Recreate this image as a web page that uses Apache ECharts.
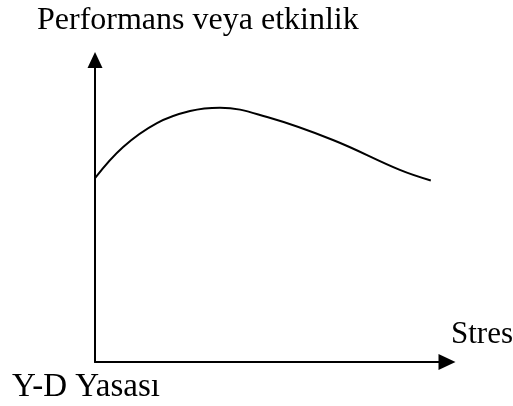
<!DOCTYPE html>
<html>
<head>
<meta charset="utf-8">
<script src="https://cdn.jsdelivr.net/npm/echarts@6/dist/echarts.min.js"></script>
<style>
html,body{margin:0;padding:0;background:#fff;}
#c{width:513px;height:406px;}
</style>
</head>
<body>
<div id="c"></div>
<script>
var stressX = [0, 8.0, 17.6, 27.0, 35.5, 48.9, 67.6, 86.6, 95.4];
var performanceY = [60.9, 71.2, 79.1, 83.1, 84.2, 81.1, 73.5, 63.6, 60.1];
var yTitle = 'Performans veya etkinlik';
var xTitle = 'Stres';
var caption = 'Y-D Yasası';

var data = stressX.map(function (x, i) { return [x, performanceY[i]]; });
var serif = '"Liberation Serif", "Times New Roman", serif';

var chart = echarts.init(document.getElementById('c'));
chart.setOption({
  animation: false,
  backgroundColor: '#fff',
  grid: { left: 95, right: 66, top: 60, bottom: 44 },
  xAxis: {
    type: 'value', min: 0, max: 100,
    axisLine: { show: true, lineStyle: { color: '#000', width: 2 }, symbol: ['none', 'triangle'], symbolSize: [16, 17], symbolOffset: [0, 0] },
    axisTick: { show: false }, axisLabel: { show: false }, splitLine: { show: false }
  },
  yAxis: {
    type: 'value', min: 0, max: 100,
    axisLine: { show: true, lineStyle: { color: '#000', width: 2 }, symbol: ['none', 'triangle'], symbolSize: [15, 16], symbolOffset: [0, 0] },
    axisTick: { show: false }, axisLabel: { show: false }, splitLine: { show: false }
  },
  series: [{
    type: 'line', data: data, smooth: 0.4, showSymbol: false,
    lineStyle: { color: '#000', width: 2 }
  }],
  graphic: [
    { type: 'text', left: 37, top: 5, style: { text: yTitle, font: '32px ' + serif, fill: '#000' } },
    { type: 'text', left: 451, top: 319, style: { text: xTitle, font: '31px ' + serif, fill: '#000' } },
    { type: 'text', left: 12, top: 371, style: { text: caption, font: '33px ' + serif, fill: '#000' } }
  ]
});
</script>
</body>
</html>
